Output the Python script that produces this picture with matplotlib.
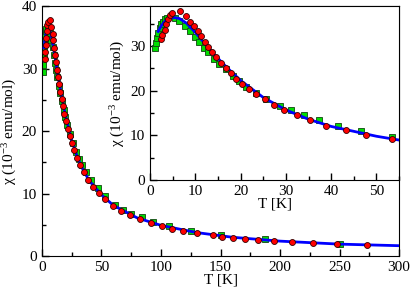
import matplotlib
matplotlib.use("Agg")
import matplotlib.pyplot as plt
from matplotlib.ticker import MultipleLocator

plt.rcParams["font.family"] = ["Liberation Serif", "DejaVu Serif"]
plt.rcParams["mathtext.fontset"] = "custom"
plt.rcParams["mathtext.rm"] = "Liberation Serif"
plt.rcParams["mathtext.it"] = "Liberation Serif:italic"
plt.rcParams["font.size"] = 11

# red circles
red_T = [2.4, 2.7, 3.2, 3.5, 4.0, 4.4, 4.9, 6.6, 7.9, 8.9, 9.7, 10.5, 11.2, 12.1,
         12.9, 13.7, 14.6, 15.6, 16.8, 17.8, 18.9, 20.3, 21.8, 23.5, 25.3, 27.3,
         29.6, 32.4, 35.3, 38.9, 43.2, 47.7, 53.4, 59.4, 66.4, 73.7, 82.4, 91.6,
         101, 109, 118.5, 130, 144, 151.5, 160.8, 170.6, 181.8, 195, 210, 227.5,
         248, 273]
red_chi = [31.5, 32.6, 33.7, 34.9, 36.0, 36.9, 37.5, 37.8, 36.7, 35.5, 34.5, 33.3,
           32.2, 31.0, 29.8, 28.6, 27.5, 26.3, 25.1, 24.0, 22.7, 21.6, 20.4, 19.2,
           18.1, 16.9, 15.7, 14.5, 13.4, 12.2, 11.1, 10.1, 9.1, 8.05, 7.25, 6.5,
           5.9, 5.3, 4.8, 4.4, 4.0, 3.7, 3.3, 3.1, 2.93, 2.7, 2.55, 2.4, 2.24,
           2.03, 1.87, 1.7]

# green squares
green_T = [1.2, 1.3, 1.5, 1.8, 2.1, 2.5, 2.9, 3.3, 3.8, 5.5, 6.5, 7.7, 8.9, 10.0,
           10.9, 11.9, 12.9, 14.2, 15.3, 16.7, 18.3, 19.6, 21.3, 23.3, 25.7, 28.8,
           31.1, 33.9, 37.3, 41.5, 46.7, 53.4, 61, 68.3, 74.8, 83.8, 93.5, 107,
           125, 150, 187, 250]
green_chi = [29.5, 30.6, 31.8, 33.0, 34.1, 34.9, 35.4, 36.0, 36.3, 36.3, 35.7, 34.5,
             33.4, 32.1, 30.9, 29.7, 28.6, 27.2, 26.1, 24.8, 23.3, 22.2, 20.9, 19.5,
             18.1, 16.6, 15.6, 14.5, 13.4, 12.1, 10.9, 9.6, 8.1, 7.4, 6.8, 6.2, 5.4,
             4.85, 4.05, 3.35, 2.65, 2.0]

# blue fit curve
fit_T = [1.8, 2.5, 3.5, 4.5, 5.5, 6.5, 8, 10, 12, 14, 17, 20, 25, 30, 35, 40, 50,
         60, 80, 100, 130, 160, 200, 250, 300]
fit_chi = [33.3, 34.6, 35.8, 36.3, 36.4, 36.2, 35.2, 33.1, 30.7, 28.3, 25.2, 22.3,
           18.5, 15.7, 13.6, 12.0, 9.8, 8.1, 6.1, 4.9, 3.75, 3.0, 2.38, 1.9, 1.65]

ylab = "χ (10$^{-3}$ emu/mol)"


def draw(ax, ms):
    ax.plot(green_T, green_chi, "s", color="#00dd00", mec="#114411", mew=0.6, ms=ms, zorder=2)
    ax.plot(fit_T, fit_chi, "-", color="#0000ff", lw=2, zorder=3)
    ax.plot(red_T, red_chi, "o", color="#ff0000", mec="#330000", mew=0.6, ms=ms, zorder=4)
    ax.tick_params(which="both", direction="in", top=False, right=False)
    ax.tick_params(which="major", length=5, width=1)
    ax.tick_params(which="minor", length=3, width=1)
    ax.set_xlabel("T [K]", labelpad=0)
    ax.set_ylabel(ylab, labelpad=2)


fig = plt.figure(figsize=(4.11, 2.87), dpi=100)

ax = fig.add_axes([0.102, 0.108, 0.869, 0.871])
draw(ax, 4.3)
ax.set_xlim(0, 300)
ax.set_ylim(0, 40)
ax.xaxis.set_major_locator(MultipleLocator(50))
ax.xaxis.set_minor_locator(MultipleLocator(25))
ax.yaxis.set_major_locator(MultipleLocator(10))
ax.yaxis.set_minor_locator(MultipleLocator(5))

ins = fig.add_axes([0.365, 0.373, 0.606, 0.606])
draw(ins, 4.3)
ins.set_facecolor("white")
ins.set_xlim(0, 55)
ins.set_ylim(0, 39)
ins.xaxis.set_major_locator(MultipleLocator(10))
ins.xaxis.set_minor_locator(MultipleLocator(5))
ins.yaxis.set_major_locator(MultipleLocator(10))
ins.yaxis.set_minor_locator(MultipleLocator(5))

fig.savefig("out.png", dpi=100)
